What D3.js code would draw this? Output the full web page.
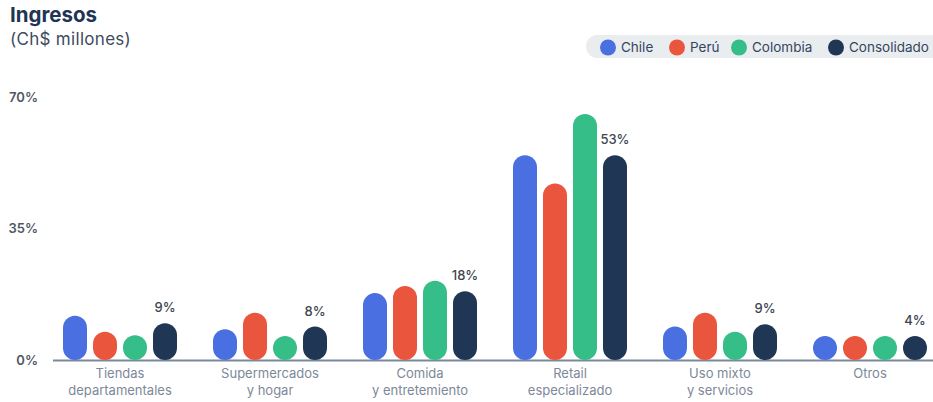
<!DOCTYPE html>
<html>
<head>
    <meta charset="utf-8">
    <title>Ingresos</title>
    <script type="text/javascript" src="https://cdn.jsdelivr.net/npm/d3@7"></script>
    <style>
    body { margin: 0; background: #fff; }
    svg text { font-family: Inter, "Noto Sans", sans-serif; }
    .title { font-size: 20.5px; font-weight: 700; fill: #1f3553; }
    .subtitle { font-size: 17px; fill: #3d4c60; letter-spacing: 0.3px; }
    .axis text { font-size: 13px; font-weight: 600; fill: #4f5863; }
    .cat { font-size: 13px; fill: #7d8899; }
    .val { font-size: 13px; font-weight: 500; fill: #3c4550; }
    .legend text { font-size: 13.5px; fill: #34465d; }
    </style>
</head>
<body>
<script type="text/javascript">
    var width = 933,
        height = 402;

    // categories (two lines each)
    var categories = [
        ["Tiendas", "departamentales"],
        ["Supermercados", "y hogar"],
        ["Comida", "y entretemiento"],
        ["Retail", "especializado"],
        ["Uso mixto", "y servicios"],
        ["Otros"]
    ];
    var seriesNames = ["Chile", "Perú", "Colombia", "Consolidado"];
    var seriesColors = ["#4a6fe1", "#e9553d", "#36be88", "#1f3655"];

    // values (%)
    var chile       = [11.8, 8.2, 17.8, 54.5, 8.9, 4];
    var peru        = [7.5, 12.6, 19.7, 47.0, 12.6, 4];
    var colombia    = [6.6, 5, 21.1, 65.5, 7.5, 4];
    var consolidado = [9.8, 8.9, 18.3, 54.5, 9.5, 4];
    var consLabels  = ["9%", "8%", "18%", "53%", "9%", "4%"];
    var yTicks = [0, 35, 70];

    var series = [chile, peru, colombia, consolidado];

    var svg = d3.select("body").append("svg")
        .attr("width", width)
        .attr("height", height);

    var x0 = d3.scaleBand()
        .domain(d3.range(categories.length))
        .range([45, 945]);

    var x1 = d3.scaleBand()
        .domain(d3.range(series.length))
        .range([15, 135])
        .paddingInner(0.2)
        .paddingOuter(0.1);

    var y = d3.scaleLinear()
        .domain([0, 70])
        .range([360, 97]);

    // title
    svg.append("text").attr("class", "title")
        .attr("x", 10).attr("y", 22).text("Ingresos");
    svg.append("text").attr("class", "subtitle")
        .attr("x", 10).attr("y", 45).text("(Ch$ millones)");

    // legend
    var legend = svg.append("g").attr("class", "legend");
    legend.append("rect")
        .attr("x", 586).attr("y", 35)
        .attr("width", 370).attr("height", 23)
        .attr("rx", 11.5)
        .attr("fill", "#eaedf0");
    var legendX = [608, 677, 739, 836];
    seriesNames.forEach(function(name, i){
        legend.append("circle")
            .attr("cx", legendX[i]).attr("cy", 47.5).attr("r", 8)
            .attr("fill", seriesColors[i]);
        legend.append("text")
            .attr("x", legendX[i] + 13).attr("y", 47.5)
            .attr("dy", "0.35em")
            .text(name);
    });

    // y axis
    var yAxis = d3.axisLeft(y)
        .tickValues(yTicks)
        .tickSize(0)
        .tickPadding(0)
        .tickFormat(function(d){ return d + "%"; });

    svg.append("g")
        .attr("class", "axis")
        .attr("transform", "translate(38,0)")
        .call(yAxis)
        .call(function(g){ g.select(".domain").remove(); });

    // baseline
    svg.append("line")
        .attr("x1", 53).attr("x2", 933)
        .attr("y1", y(0) + 0.5).attr("y2", y(0) + 0.5)
        .attr("stroke", "#7b8a9b")
        .attr("stroke-width", 2);

    // bars
    var bw = x1.bandwidth();
    var groups = svg.selectAll("g.grp")
        .data(categories)
        .enter().append("g")
        .attr("class", "grp")
        .attr("transform", function(d, i){ return "translate(" + x0(i) + ",0)"; });

    groups.each(function(cat, ci){
        var g = d3.select(this);
        var vals = series.map(function(s){ return s[ci]; });
        g.selectAll("rect")
            .data(vals)
            .enter().append("rect")
            .attr("x", function(d, si){ return x1(si); })
            .attr("width", bw)
            .attr("y", function(d){ return Math.min(y(d), y(0) - bw); })
            .attr("height", function(d){ return Math.max(y(0) - y(d), bw); })
            .attr("rx", bw / 2)
            .attr("fill", function(d, si){ return seriesColors[si]; });

        g.append("text")
            .attr("class", "val")
            .attr("x", x1(3) + bw / 2)
            .attr("y", Math.min(y(consolidado[ci]), y(0) - bw) - 11)
            .attr("text-anchor", "middle")
            .text(consLabels[ci]);

        var lab = g.append("text")
            .attr("class", "cat")
            .attr("text-anchor", "middle");
        cat.forEach(function(line, li){
            lab.append("tspan")
                .attr("x", x0.bandwidth() / 2)
                .attr("y", 378 + li * 17)
                .text(line);
        });
    });
</script>
</body>
</html>
